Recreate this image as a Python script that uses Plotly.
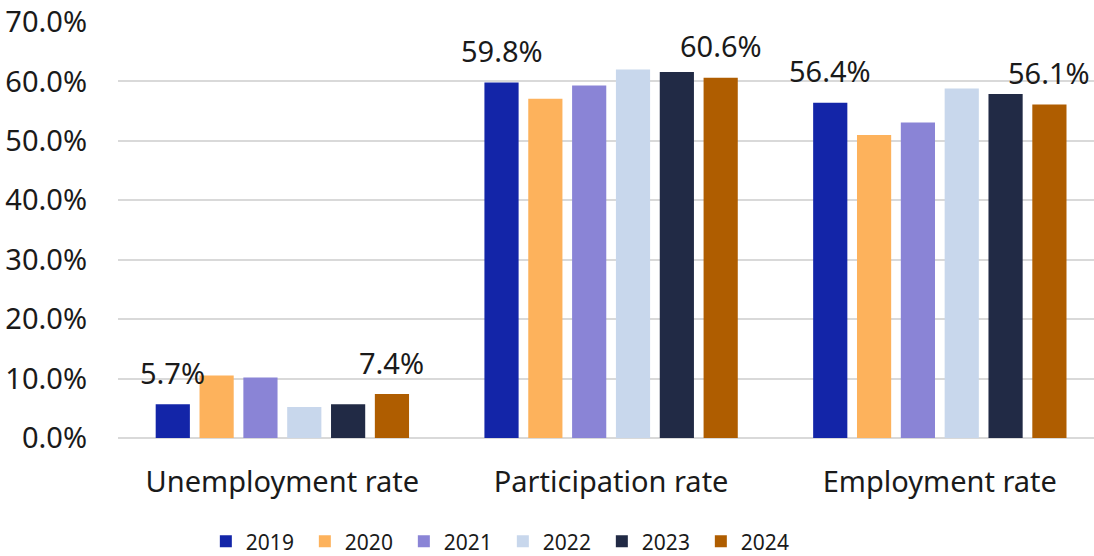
import plotly.graph_objects as go

categories = ["Unemployment rate", "Participation rate", "Employment rate"]
years = ["2019", "2020", "2021", "2022", "2023", "2024"]
v2019 = [5.7, 59.8, 56.4]
v2020 = [10.5, 57.1, 51.0]
v2021 = [10.2, 59.3, 53.1]
v2022 = [5.2, 62.0, 58.8]
v2023 = [5.7, 61.6, 57.9]
v2024 = [7.4, 60.6, 56.1]
series = [v2019, v2020, v2021, v2022, v2023, v2024]
colors = ["#1325A8", "#FDB25C", "#8A84D6", "#C8D7EC", "#212A45", "#AF5D00"]
labelled = ["2019", "2024"]

FONT = "Noto Sans"
BARGAP = 0.2
GROUPGAP = 0.22

fig = go.Figure()
xs = list(range(len(categories)))
for yr, vals, col in zip(years, series, colors):
    fig.add_trace(go.Bar(
        name=yr, x=xs, y=vals,
        marker=dict(color=col, line=dict(width=0)),
        hoverinfo="skip",
    ))

n = len(years)
slot = (1 - BARGAP) / n
for k, (yr, vals) in enumerate(zip(years, series)):
    if yr not in labelled:
        continue
    for i, v in enumerate(vals):
        fig.add_annotation(
            x=i - (1 - BARGAP) / 2 + (k + 0.5) * slot, y=v,
            xref="x", yref="y",
            text=f"{v:.1f}%", showarrow=False,
            yanchor="middle", yshift=32,
            font=dict(family=FONT, size=29, color="#1a1a1a"),
        )

fig.update_layout(
    width=1094, height=556,
    margin=dict(l=118, r=0, t=22, b=118, autoexpand=False),
    paper_bgcolor="white", plot_bgcolor="white",
    barmode="group", bargap=BARGAP, bargroupgap=GROUPGAP,
    font=dict(family=FONT, size=29, color="#1a1a1a"),
    showlegend=True,
    legend=dict(
        orientation="h", x=0.09, xanchor="left", y=-0.2, yanchor="top",
        font=dict(family=FONT, size=21, color="#1a1a1a"),
        entrywidth=54, entrywidthmode="pixels",
        itemsizing="constant", tracegroupgap=0, borderwidth=0,
        bgcolor="rgba(0,0,0,0)",
    ),
)
fig.update_xaxes(
    tickmode="array", tickvals=xs, ticktext=categories,
    range=[-0.5, 2.469], showgrid=False, zeroline=False, showline=False,
    ticks="", ticklabelstandoff=24, automargin=False,
    tickfont=dict(family=FONT, size=29, color="#1a1a1a"),
)
fig.update_yaxes(
    range=[0, 70], dtick=10, tickformat=".1f", ticksuffix="%",
    showgrid=True, gridcolor="#D9D9D9", gridwidth=1.5,
    zeroline=True, zerolinecolor="#D9D9D9", zerolinewidth=1.5,
    showline=False, ticks="", ticklabelstandoff=30, automargin=False,
    tickfont=dict(family=FONT, size=29, color="#1a1a1a"),
)

fig.write_html(
    "out.html",
    config={"displayModeBar": False},
    post_script="document.body.style.margin='0';document.body.style.overflow='hidden';",
)
